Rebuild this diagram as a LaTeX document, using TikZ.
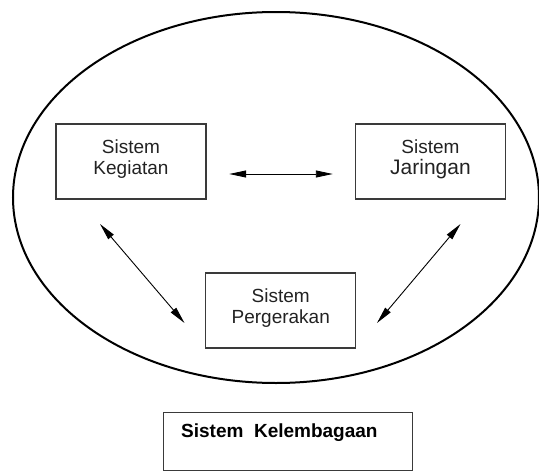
\documentclass[tikz,border=0pt]{standalone}
\usepackage{fontspec}
\setmainfont{Liberation Sans}
\usetikzlibrary{shapes.geometric,arrows.meta}
\definecolor{boxline}{HTML}{3A3A3A}
\definecolor{txt}{HTML}{222222}
\tikzset{
  sysbox/.style={draw=boxline, line width=1.4pt, minimum width=150pt, minimum height=75pt,
    inner sep=0pt, align=center, text=txt, font=\fontsize{19}{21.5}\selectfont},
  twoway/.style={line width=0.9pt, {Triangle[length=17pt,width=7pt]}-{Triangle[length=17pt,width=7pt]}},
}
\begin{document}
\begin{tikzpicture}[x=1pt,y=-1pt]
\useasboundingbox (0,0) rectangle (539,471);
\node[ellipse, draw=black, line width=2pt, minimum width=526pt, minimum height=371pt, inner sep=0pt] (sys) at (276,197.5) {};
\node[sysbox] (keg) at (131,161.5) {Sistem\\Kegiatan\\[-13pt]\mbox{}};
\node[sysbox] (jar) at (430.5,161.5) {Sistem\\{\fontsize{21}{23}\selectfont Jaringan}\\[-13pt]\mbox{}};
\node[sysbox] (per) at (280.75,310.5) {Sistem\\Pergerakan\\[-13pt]\mbox{}};
\node[draw=boxline, line width=1.4pt, minimum width=249pt, minimum height=58pt, inner sep=0pt, anchor=north west] (kel) at (163,412) {};
\node[anchor=west, text=black, font=\fontsize{19}{22}\selectfont\bfseries, inner sep=0pt] (keltxt) at (181,433) {Sistem\ \ Kelembagaan};
\coordinate (lk) at (100,224);
\coordinate (lp) at (184.5,323);
\coordinate (rj) at (460.5,224);
\coordinate (rp) at (377,323);
\draw[twoway, shorten <=22.5pt, shorten >=22pt] ([yshift=-12.5pt]keg.east) -- ([yshift=-12.5pt]jar.west);
\draw[twoway] (lk) -- (lp);
\draw[twoway] (rj) -- (rp);
\end{tikzpicture}
\end{document}
